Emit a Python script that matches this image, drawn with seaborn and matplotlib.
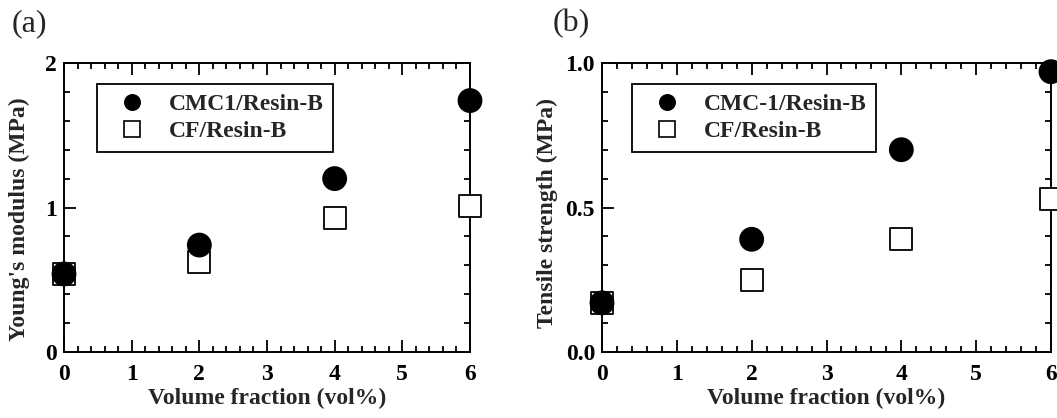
import pandas as pd
import seaborn as sns
import matplotlib
matplotlib.use("Agg")
import matplotlib.pyplot as plt
from matplotlib.lines import Line2D
from matplotlib.ticker import MultipleLocator

# data
vol = [0, 2, 4, 6]
modulus_cmc = [0.54, 0.74, 1.20, 1.74]
modulus_cf = [0.54, 0.62, 0.93, 1.01]
strength_cmc = [0.17, 0.39, 0.70, 0.97]
strength_cf = [0.17, 0.25, 0.39, 0.53]

label_cmc_a = "CMC1/Resin-B"
label_cmc_b = "CMC-1/Resin-B"
label_cf = "CF/Resin-B"

sns.set_style("ticks")
plt.rcParams["font.family"] = ["Liberation Serif", "DejaVu Serif"]
plt.rcParams["font.weight"] = "bold"
plt.rcParams["axes.labelweight"] = "bold"

FS = 17


def make_df(cmc, cf):
    # CF first so the filled circles end up drawn on top
    df_cf = pd.DataFrame({"vol": vol, "val": cf, "series": "CF"})
    df_cmc = pd.DataFrame({"vol": vol, "val": cmc, "series": "CMC"})
    return pd.concat([df_cf, df_cmc], ignore_index=True)


def style_axis(ax, ymax, ymajor, yminor, yfmt):
    ax.set_xlim(0, 6)
    ax.set_ylim(0, ymax)
    ax.xaxis.set_major_locator(MultipleLocator(1))
    ax.xaxis.set_minor_locator(MultipleLocator(0.2))
    ax.yaxis.set_major_locator(MultipleLocator(ymajor))
    ax.yaxis.set_minor_locator(MultipleLocator(yminor))
    ax.yaxis.set_major_formatter(yfmt)
    ax.tick_params(which="both", direction="in", top=True, right=True,
                   width=1.3, colors="black", labelsize=FS)
    ax.tick_params(axis="y", pad=5)
    ax.tick_params(axis="x", pad=8.5)
    ax.tick_params(which="major", length=8.5)
    ax.tick_params(which="minor", length=4.3)
    for lab in ax.get_xticklabels() + ax.get_yticklabels():
        lab.set_fontweight("bold")
    for sp in ax.spines.values():
        sp.set_visible(True)
        sp.set_linewidth(1.4)
        sp.set_color("black")
    ax.set_xlabel("Volume fraction (vol%)", fontsize=FS, fontweight="bold", labelpad=2)


def draw(ax, df, cmc_label, leg_x):
    sns.scatterplot(data=df, x="vol", y="val", hue="series", style="series",
                    palette={"CF": "white", "CMC": "black"},
                    markers={"CF": "s", "CMC": "o"},
                    size="series", sizes={"CF": 250, "CMC": 275},
                    edgecolor="black", linewidth=1.3, legend=False,
                    clip_on=False, zorder=5, ax=ax)
    handles = [
        Line2D([], [], ls="none", marker="o", ms=11, mfc="black", mec="black", mew=1.2),
        Line2D([], [], ls="none", marker="s", ms=11, mfc="white", mec="black", mew=1.2),
    ]
    leg = ax.legend(handles, [cmc_label, label_cf], loc="upper left",
                    bbox_to_anchor=(leg_x, 0.928), frameon=True, fancybox=False,
                    edgecolor="black", framealpha=1, borderpad=0.4,
                    handlelength=2.2, handletextpad=0.45, labelspacing=0.25,
                    borderaxespad=0,
                    prop={"family": "Liberation Serif", "weight": "bold", "size": FS})
    leg.get_frame().set_linewidth(1.3)


fig = plt.figure(figsize=(10.57, 4.18), dpi=100)
ax_a = fig.add_axes([64 / 1057, 66 / 418, 406 / 1057, 289 / 418])
ax_b = fig.add_axes([602 / 1057, 66 / 418, 449 / 1057, 289 / 418])

draw(ax_a, make_df(modulus_cmc, modulus_cf), label_cmc_a, 0.081)
style_axis(ax_a, 2, 1, 0.2, "{x:.0f}")
ax_a.set_ylabel("Young's modulus (MPa)", fontsize=FS, fontweight="bold")
ax_a.yaxis.set_label_coords(-0.084, 0.46)

draw(ax_b, make_df(strength_cmc, strength_cf), label_cmc_b, 0.067)
style_axis(ax_b, 1.0, 0.5, 0.1, "{x:.1f}")
ax_b.set_ylabel("Tensile strength (MPa)", fontsize=FS, fontweight="bold")
ax_b.yaxis.set_label_coords(-0.098, 0.48)

fig.text(12 / 1057, 1 - 9 / 418, "(a)", fontsize=23, fontweight="normal", va="top", ha="left")
fig.text(553 / 1057, 1 - 9 / 418, "(b)", fontsize=23, fontweight="normal", va="top", ha="left")

fig.savefig("out.png", dpi=100, facecolor="white")
